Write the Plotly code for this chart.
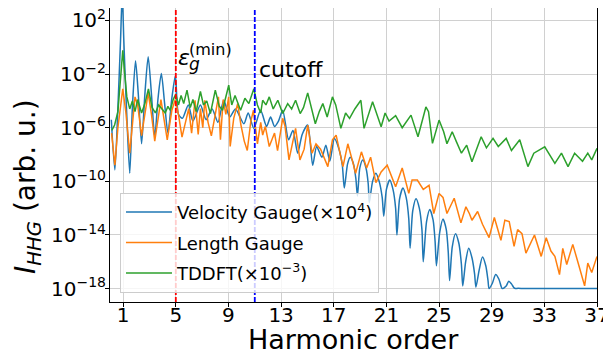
import numpy as np
import plotly.graph_objects as go

# ---------------- data (harmonic order, log10 of intensity) ----------------
vg_h = [0.1, 0.37, 0.6, 0.8, 0.93, 1.05, 1.25, 1.5, 1.7, 1.94, 2.15, 2.4, 2.65, 2.9, 3.15, 3.4,
        3.65, 3.9, 4.15, 4.4, 4.7, 4.97, 5.2, 5.5, 5.95, 6.3, 6.87, 7.3, 7.76, 8.2, 8.64, 9.1,
        9.53, 10.17, 10.5, 10.93, 11.44, 11.9, 12.2, 12.5, 12.8, 13.12, 13.57, 13.9, 14.26, 14.6,
        15.02, 15.4, 15.7, 16.1, 16.4, 16.7, 17.05, 17.4, 17.65, 17.8,
        18.05, 18.25, 18.5, 18.68, 18.8,
        18.98, 19.2, 19.45, 19.62, 19.7,
        19.95, 20.2, 20.45, 20.68, 20.8,
        21.0, 21.25, 21.5, 21.7, 21.8,
        22.0, 22.25, 22.5, 22.7, 22.8,
        23.0, 23.25, 23.5, 23.7, 23.8,
        24.05, 24.3, 24.55, 24.7, 24.8,
        25.05, 25.3, 25.55, 25.7, 25.8,
        26.0, 26.25, 26.5, 26.7, 26.8,
        27.02, 27.25, 27.5, 27.7, 27.8,
        28.05, 28.3, 28.55, 28.72, 28.8,
        29.05, 29.3, 29.55, 29.72, 29.8,
        30.1, 30.3, 30.5, 30.7, 30.8,
        31.0, 31.5, 37.0]
vg_log = [-5.4, -9.15, -4.5, 0.5, 4.0, 0.5, -4.5, -9.4, -4.5, -1.0, -3.5, -7.2, -3.5, -0.7, -3.5, -6.7,
          -3.8, -1.95, -4.2, -6.4, -3.8, -2.1, -5.0, -5.3, -4.3, -5.5, -4.3, -5.4, -4.6, -5.6, -3.95, -5.2,
          -4.6, -5.7, -4.9, -6.05, -4.7, -5.9, -5.2, -5.9, -5.5, -4.7, -6.9, -6.2, -7.9, -6.5,
          -5.8, -8.8, -7.4, -8.2, -7.3, -8.5, -6.8, -7.6, -8.8, -10.5,
          -8.7, -8.2, -8.7, -9.8, -11.1,
          -9.0, -8.4, -9.0, -10.2, -11.6,
          -10.0, -9.4, -10.0, -11.2, -12.6,
          -10.6, -9.9, -10.6, -12.0, -14.0,
          -11.3, -10.5, -11.2, -12.8, -15.0,
          -12.2, -11.3, -12.0, -13.6, -16.0,
          -13.0, -12.1, -12.9, -14.5, -16.3,
          -13.8, -12.8, -13.6, -15.3, -17.4,
          -14.9, -13.9, -14.6, -16.2, -17.8,
          -16.0, -15.0, -15.7, -16.9, -17.9,
          -16.6, -15.65, -16.3, -17.4, -18.0,
          -17.6, -16.95, -17.3, -17.85, -18.0,
          -17.8, -17.45, -17.65, -17.95, -18.0,
          -17.98, -18.0, -18.0]

lg_h = [0.12, 0.37, 0.6, 0.97, 1.2, 1.5, 1.9, 2.1, 2.4, 2.9, 3.15, 3.4, 3.87, 4.1, 4.35, 4.7, 4.96,
        5.2, 5.47, 5.98, 6.2, 6.46, 6.7, 6.87, 7.05, 7.2, 7.45, 7.7, 8.0, 8.24, 8.39, 8.6, 8.8, 9.02,
        9.13, 9.4, 9.7, 9.95, 10.2, 10.43, 10.7, 10.9, 11.2, 11.45, 11.6, 11.8, 12.1, 12.5, 12.73,
        13.12, 13.3, 13.6, 14.1, 14.43, 14.75, 15.02, 15.35, 15.65, 16.0, 16.55, 16.9, 17.18, 17.7,
        18.07, 18.4, 18.66, 19.1, 19.5, 19.8, 20.2, 20.6, 21.06, 21.7, 22.2, 22.7, 22.95, 23.35,
        23.8, 24.24, 24.6, 25.0, 25.3, 25.6, 26.15, 26.66, 27.04, 27.3, 27.5, 27.93, 28.3, 28.8,
        29.2, 29.7, 30.0, 30.33, 30.7, 30.97, 31.3, 31.6, 32.25, 32.76, 33.14, 33.5, 33.8, 34.15,
        34.4, 34.7, 35.16, 35.6, 36.06, 36.3, 36.6, 37.0]
lg_log = [-6.4, -8.8, -6.0, -3.1, -4.8, -7.9, -3.7, -4.3, -6.6, -3.4, -5.0, -7.0, -3.9, -5.2, -6.9, -4.7, -3.9,
          -5.0, -6.7, -4.57, -6.4, -3.95, -6.5, -4.57, -6.0, -3.95, -5.6, -6.6, -5.0, -3.7, -6.9, -3.9, -5.0, -3.7,
          -7.4, -5.3, -4.2, -5.8, -7.0, -7.7, -5.5, -4.7, -7.2, -5.6, -6.55, -5.9, -7.4, -6.4, -7.7,
          -5.3, -5.9, -8.4, -6.05, -8.4, -7.6, -5.8, -7.9, -7.2, -7.6, -8.9, -6.9, -6.55, -8.9,
          -7.2, -8.4, -9.4, -7.8, -9.0, -8.2, -10.1, -9.3, -8.8, -10.4, -9.0, -10.9, -9.9, -9.9,
          -10.6, -10.3, -12.4, -10.9, -11.2, -12.4, -11.26, -13.1, -11.9, -12.4, -12.9, -12.25, -13.2, -14.2,
          -12.7, -14.4, -12.9, -13.0, -14.85, -13.6, -13.9, -15.35, -14.0, -15.6, -14.2, -15.2, -15.6, -16.96,
          -15.0, -16.2, -14.7, -16.2, -17.8, -16.1, -16.8, -15.6]

td_h = [0.14, 0.35, 0.6, 0.8, 0.97, 1.1, 1.28, 1.5, 1.7, 1.9, 2.1, 2.4, 2.65, 2.92, 3.2, 3.45, 3.7,
        3.95, 4.2, 4.4, 4.58, 4.8, 5.0, 5.2, 5.4, 5.6, 5.85, 6.1, 6.3, 6.55, 6.87, 7.1, 7.35, 7.63,
        8.0, 8.3, 8.55, 9.02, 9.25, 9.5, 9.92, 10.25, 10.55, 10.93, 11.2, 11.45, 11.6, 11.85, 12.1,
        12.4, 12.75, 13.12, 13.5, 13.8, 14.1, 14.45, 14.7, 15.02, 15.3, 15.6, 15.9, 16.17, 16.5,
        16.9, 17.15, 17.54, 17.9, 18.2, 18.6, 19.06, 19.3, 19.95, 20.6, 20.9, 21.2, 21.7, 22.2,
        22.87, 23.4, 24.0, 24.2, 24.5, 25.0, 25.35, 25.6, 26.0, 26.3, 26.7, 27.1, 27.5, 28.2, 28.6,
        29.1, 29.5, 30.1, 30.5, 31.13, 31.75, 32.2, 33.03, 33.8, 34.3, 34.8, 35.3, 35.9, 36.3,
        36.6, 37.0]
td_log = [-6.2, -5.8, -4.8, -2.5, -0.23, -1.8, -3.7, -4.6, -4.0, -4.8, -3.9, -4.9, -4.2, -3.1, -4.5, -4.9, -4.3,
          -4.6, -4.9, -4.4, -4.7, -3.9, -3.5, -4.3, -3.6, -4.2, -3.2, -4.5, -3.9, -4.8, -3.3, -4.3, -4.0, -4.94,
          -3.2, -4.4, -4.7, -2.83, -4.3, -3.6, -4.7, -3.8, -4.2, -3.1, -4.3, -4.9, -3.95, -4.3, -3.7,
          -4.6, -3.95, -4.94, -4.2, -4.6, -3.95, -4.94, -4.5, -3.4, -4.5, -5.7, -4.8, -4.2, -5.2,
          -3.7, -4.3, -6.05, -4.9, -5.3, -4.6, -3.95, -6.05, -4.07, -5.93, -4.9, -5.5, -5.1, -6.0,
          -5.06, -6.67, -4.45, -4.8, -7.17, -5.43, -6.3, -7.2, -6.3, -7.0, -7.9, -7.3, -8.54, -6.67, -7.5,
          -6.8, -7.4, -6.8, -7.7, -6.9, -8.9, -7.9, -7.42, -8.66, -7.9, -8.9, -7.9, -8.5, -7.9,
          -8.4, -7.54]

x_ticks = [1, 5, 9, 13, 17, 21, 25, 29, 33, 37]
y_tick_exp = [2, -2, -6, -10, -14, -18]
gap_harmonic = 5
cutoff_harmonic = 11

names = ["Velocity Gauge(×10<sup>4</sup>)", "Length Gauge", "TDDFT(×10<sup>−3</sup>)"]
colors = ["#1f77b4", "#ff7f0e", "#2ca02c"]

FONT = "DejaVu Sans"

fig = go.Figure()
series = [(vg_h, vg_log, "spline", 0.7), (lg_h, lg_log, "linear", None), (td_h, td_log, "linear", None)]
for (h, lg, shape, sm), name, col in zip(series, names, colors):
    line = dict(color=col, width=1.5, shape=shape)
    if sm is not None:
        line["smoothing"] = sm
    fig.add_trace(go.Scatter(
        x=h, y=np.power(10.0, np.array(lg)), mode="lines", name=name,
        line=line, legendgroup=name,
    ))

for xv, col in [(gap_harmonic, "red"), (cutoff_harmonic, "blue")]:
    fig.add_shape(type="line", xref="x", yref="paper", x0=xv, x1=xv, y0=0, y1=1,
                  line=dict(color=col, width=1.8, dash="5px,2px"))

# epsilon_g^(min) label
fig.add_annotation(x=5.05, y=-0.75, xref="x", yref="y", text="<i>ε</i>", showarrow=False,
                   xanchor="left", yanchor="middle", font=dict(family=FONT, size=22, color="black"))
fig.add_annotation(x=5.85, y=-1.25, xref="x", yref="y", text="<i>g</i>", showarrow=False,
                   xanchor="left", yanchor="middle", font=dict(family=FONT, size=17, color="black"))
fig.add_annotation(x=5.85, y=-0.2, xref="x", yref="y", text="(min)", showarrow=False,
                   xanchor="left", yanchor="middle", font=dict(family=FONT, size=16, color="black"))
fig.add_annotation(x=11.15, y=-1.65, xref="x", yref="y", text="cutoff", showarrow=False,
                   xanchor="left", yanchor="middle", font=dict(family=FONT, size=22, color="black"))

# axis titles
fig.add_annotation(x=0.501, y=-0.129, xref="paper", yref="paper", text="Harmonic order",
                   showarrow=False, xanchor="center", yanchor="middle",
                   font=dict(family=FONT, size=27, color="black"))
fig.add_annotation(x=-0.168, y=0.392, xref="paper", yref="paper",
                   text="<i>I</i><sub><i>HHG</i></sub> (arb. u.)", textangle=-90,
                   showarrow=False, xanchor="center", yanchor="middle",
                   font=dict(family=FONT, size=28, color="black"))

# page body has an 8px margin: figure is sized / offset to compensate
fig.update_layout(
    width=603, height=350,
    margin=dict(l=102, r=14, t=0, b=56, autoexpand=False),
    paper_bgcolor="white", plot_bgcolor="white",
    font=dict(family=FONT, color="black"),
    showlegend=True,
    legend=dict(x=0.0205, y=0.031, xanchor="left", yanchor="bottom",
                bgcolor="rgba(255,255,255,0.8)", bordercolor="#cccccc", borderwidth=1,
                font=dict(family=FONT, size=18, color="black"), tracegroupgap=4,
                itemwidth=46),
)
fig.update_xaxes(range=[0, 37], tickvals=x_ticks, ticktext=[str(t) for t in x_ticks],
                 showgrid=True, gridcolor="#d0d0d0", gridwidth=1,
                 showline=True, linecolor="black", linewidth=1, mirror=True,
                 ticks="outside", ticklen=4, tickcolor="black", ticklabelstandoff=-9,
                 ticklabeloverflow="allow",
                 tickfont=dict(family=FONT, size=20, color="black"),
                 automargin=False, zeroline=False)
fig.update_yaxes(type="log", range=[-19, 2.93],
                 tickvals=[10.0 ** e for e in y_tick_exp],
                 ticktext=["10<sup>%s</sup>" % (str(e) if e >= 0 else "−" + str(-e)) for e in y_tick_exp],
                 showgrid=True, gridcolor="#d0d0d0", gridwidth=1,
                 showline=True, linecolor="black", linewidth=1, mirror=True,
                 ticks="outside", ticklen=4, tickcolor="black", ticklabelstandoff=-5,
                 ticklabeloverflow="allow",
                 tickfont=dict(family=FONT, size=20, color="black"),
                 automargin=False, zeroline=False)

fig.write_html("out.html")
